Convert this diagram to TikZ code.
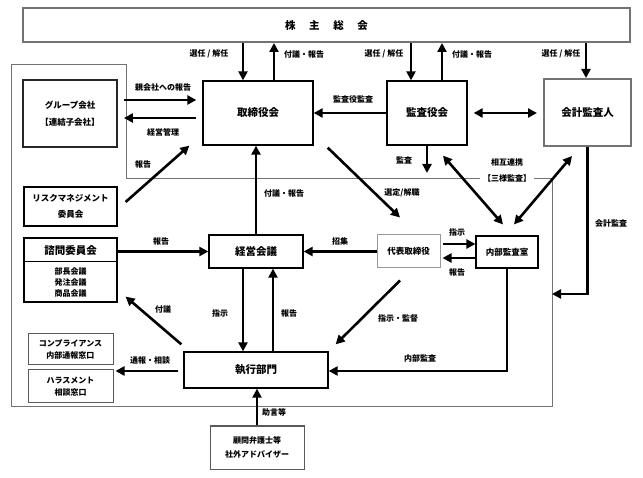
\documentclass[tikz,border=0pt]{standalone}
\usepackage{fontspec}
\setmainfont{Noto Sans CJK JP}
\usetikzlibrary{arrows.meta,calc}
\begin{document}
\begin{tikzpicture}[x=1pt,y=-1pt,
  base/.style={fill=white, align=center, inner sep=0pt},
  box/.style={base, draw=black, line width=1.3pt, font=\bfseries\fontsize{10.5}{12}\selectfont},
  sbox/.style={base, draw=black, line width=1.2pt, font=\bfseries\fontsize{8.5}{16}\selectfont},
  gbox/.style={base, draw=black!65, line width=1pt, font=\bfseries\fontsize{8}{11.5}\selectfont},
  heavygray/.style={base, draw=black!55, line width=2pt},
  arr/.style={line width=2.6pt, -{Triangle[length=9pt,width=9pt]}},
  darr/.style={line width=2.6pt, {Triangle[length=9pt,width=9pt]}-{Triangle[length=9pt,width=9pt]}},
  lab/.style={font=\bfseries\fontsize{8}{9}\selectfont, inner sep=1pt},
  frame/.style={draw=black!55, line width=0.9pt}
]
\useasboundingbox (0,0) rectangle (643,478);
\fill[white] (0,0) rectangle (643,478);

% big frame
\draw[frame] (11,64) -- (126,64) -- (126,178) -- (552,178) -- (552,406) -- (11,406) -- cycle;

% nodes
\node[heavygray, minimum width=607, minimum height=34, font=\bfseries\fontsize{10.5}{12}\selectfont] (top) at (326.5,25) {株\hspace{1.3em}主\hspace{1.3em}総\hspace{1.3em}会};
\node[box, minimum width=110, minimum height=64] (tori) at (258,113) {取締役会};
\node[box, minimum width=80, minimum height=64] (kansa) at (427,113) {監査役会};
\node[heavygray, minimum width=87, minimum height=67, font=\bfseries\fontsize{10.5}{12}\selectfont] (kaikei) at (587.5,112.5) {会計監査人};
\node[sbox, line width=1.8pt, draw=black!85, minimum width=94, minimum height=67, font=\bfseries\fontsize{8.5}{17}\selectfont] (group) at (70,113.5) {グループ会社\\【連結子会社】};
\node[sbox, minimum width=93, minimum height=39] (risk) at (70.5,206.5) {リスクマネジメント\\委員会};
\node[sbox, minimum width=93, minimum height=64] (shimon) at (70.5,270) {};
\draw[line width=1.2pt] ($(shimon.north west)+(0,24)$) -- ($(shimon.north east)+(0,24)$);
\node[font=\bfseries\fontsize{10.5}{12}\selectfont, inner sep=0pt] (shimonT) at (70.5,250.5) {諮問委員会};
\node[font=\bfseries\fontsize{8}{11}\selectfont, align=center, inner sep=0pt] (shimonS) at (70.5,282.5) {部長会議\\発注会議\\商品会議};
\node[box, minimum width=94, minimum height=33] (keiei) at (256,251.5) {経営会議};
\node[gbox, draw=black!40, minimum width=63, minimum height=33, font=\bfseries\fontsize{8.5}{12}\selectfont] (daihyo) at (408.5,251.5) {代表取締役};
\node[sbox, line width=1.1pt, minimum width=62, minimum height=32] (naibu) at (507,252) {内部監査室};
\node[gbox, minimum width=85, minimum height=31] (comp) at (70.5,349.5) {コンプライアンス\\内部通報窓口};
\node[gbox, minimum width=85, minimum height=33, font=\bfseries\fontsize{8}{12.5}\selectfont] (hara) at (70.5,386.5) {ハラスメント\\相談窓口};
\node[box, minimum width=144, minimum height=36] (shikko) at (256,370) {執行部門};
\node[gbox, minimum width=94, minimum height=43, font=\bfseries\fontsize{8}{14}\selectfont] (komon) at (257,447.5) {顧問弁護士等\\社外アドバイザー};

% coordinates
\coordinate (kansaEnd) at (427,173);
\coordinate (frameR) at (552,294);

% top arrows
\draw[arr] ([xshift=-15pt]tori.north |- top.south) -- ([xshift=-15pt]tori.north);
\draw[arr] ([xshift=16pt]tori.north) -- ([xshift=16pt]tori.north |- top.south);
\draw[arr] ([xshift=-16pt]kansa.north |- top.south) -- ([xshift=-16pt]kansa.north);
\draw[arr] ([xshift=15pt]kansa.north) -- ([xshift=15pt]kansa.north |- top.south);
\draw[arr] ([xshift=-1.5pt]kaikei.north |- top.south) -- ([xshift=-1.5pt]kaikei.north);
\node[lab] at (209,54) {選任 / 解任};
\node[lab] at (304,54) {付議・報告};
\node[lab] at (384,54) {選任 / 解任};
\node[lab] at (472,54) {付議・報告};
\node[lab] at (561,54) {選任 / 解任};

% group <-> tori
\draw[arr, shorten <=6pt, shorten >=6pt] ([yshift=13.5pt]group.east) -- ([yshift=13.5pt]group.east -| tori.west);
\draw[arr, shorten <=6pt, shorten >=6pt] ([yshift=-4.5pt]group.east -| tori.west) -- ([yshift=-4.5pt]group.east);
\node[lab] at (163,87) {親会社への報告};
\node[lab] at (163,132) {経営管理};

% risk -> tori
\draw[arr] ($(risk.east)+(8,-4.5)$) -- ($(tori.south west)+(-13,0)$);
\node[lab] at (143,164) {報告};

% keiei -> tori
\draw[arr] (keiei.north) -- (keiei.north |- tori.south);
\node[lab] at (284,193) {付議・報告};

% kansa -> tori
\draw[arr] (kansa.west) -- (kansa.west -| tori.east);
\node[lab] at (353,99) {監査役監査};

% kansa <-> kaikei
\draw[darr, shorten <=6pt, shorten >=6pt] (kansa.east) -- (kansa.east -| kaikei.west);

% kansa -> frame
\draw[arr] (kansa.south) -- (kansaEnd);
\node[lab] at (404,160) {監査};

% tori -> daihyo
\draw[arr] ($(tori.south east)+(14,2)$) -- ($(daihyo.north)+(-8.5,-17)$);
\node[lab] at (402,193) {選定/解職};

% three-way audit
\draw[darr] ($(kansa.south)+(16,10)$) -- ($(naibu.north)+(-4,-11)$);
\draw[darr] ($(kaikei.south)+(-15.5,9)$) -- ($(naibu.north)+(7,-11)$);
\node[lab] at (507,162) {相互連携};
\node[lab, fill=white, inner xsep=3pt] at (507,178) {【三様監査】};

% kaikei -> frame
\draw[arr] (kaikei.south) |- (frameR);
\node[lab] at (611,223) {会計監査};

% shimon -> keiei
\draw[arr] (shimon.east |- keiei.west) -- (keiei.west);
\node[lab] at (161,241) {報告};

% daihyo -> keiei
\draw[arr] (daihyo.west) -- (keiei.east);
\node[lab] at (340,241) {招集};

% daihyo <-> naibu
\draw[arr, shorten <=2pt] ([yshift=7.5pt]daihyo.east) -- ([yshift=7.5pt]daihyo.east -| naibu.west);
\draw[arr, shorten >=2pt] ([yshift=-6.5pt]daihyo.east -| naibu.west) -- ([yshift=-6.5pt]daihyo.east);
\node[lab] at (457,232) {指示};
\node[lab] at (457,272) {報告};

% keiei <-> shikko
\draw[arr] ([xshift=-13pt]keiei.south) -- ([xshift=-13pt]keiei.south |- shikko.north);
\draw[arr] ([xshift=17pt]keiei.south |- shikko.north) -- ([xshift=17pt]keiei.south);
\node[lab] at (220,313) {指示};
\node[lab] at (289,313) {報告};

% shikko -> shimon
\draw[arr] ($(shikko.north west)+(-2,-7)$) -- ($(shimon.south east)+(8,-6)$);
\node[lab] at (163,309) {付議};

% daihyo -> shikko
\draw[arr] ($(daihyo.south)+(-8.5,12)$) -- ($(shikko.north east)+(7,-7)$);
\node[lab] at (398,318) {指示・監督};

% naibu -> shikko
\draw[arr] (naibu.south) |- ([yshift=-1pt]shikko.east);
\node[lab] at (420,358) {内部監査};

% shikko -> hara
\draw[arr, shorten <=5pt, shorten >=2pt] ([yshift=-1pt]shikko.west) -- ([yshift=-1pt]shikko.west -| hara.east);
\node[lab] at (150,360) {通報・相談};

% komon -> shikko
\draw[arr] (komon.north) -- (komon.north |- shikko.south);
\node[lab] at (274,412) {助言等};
\end{tikzpicture}
\end{document}
